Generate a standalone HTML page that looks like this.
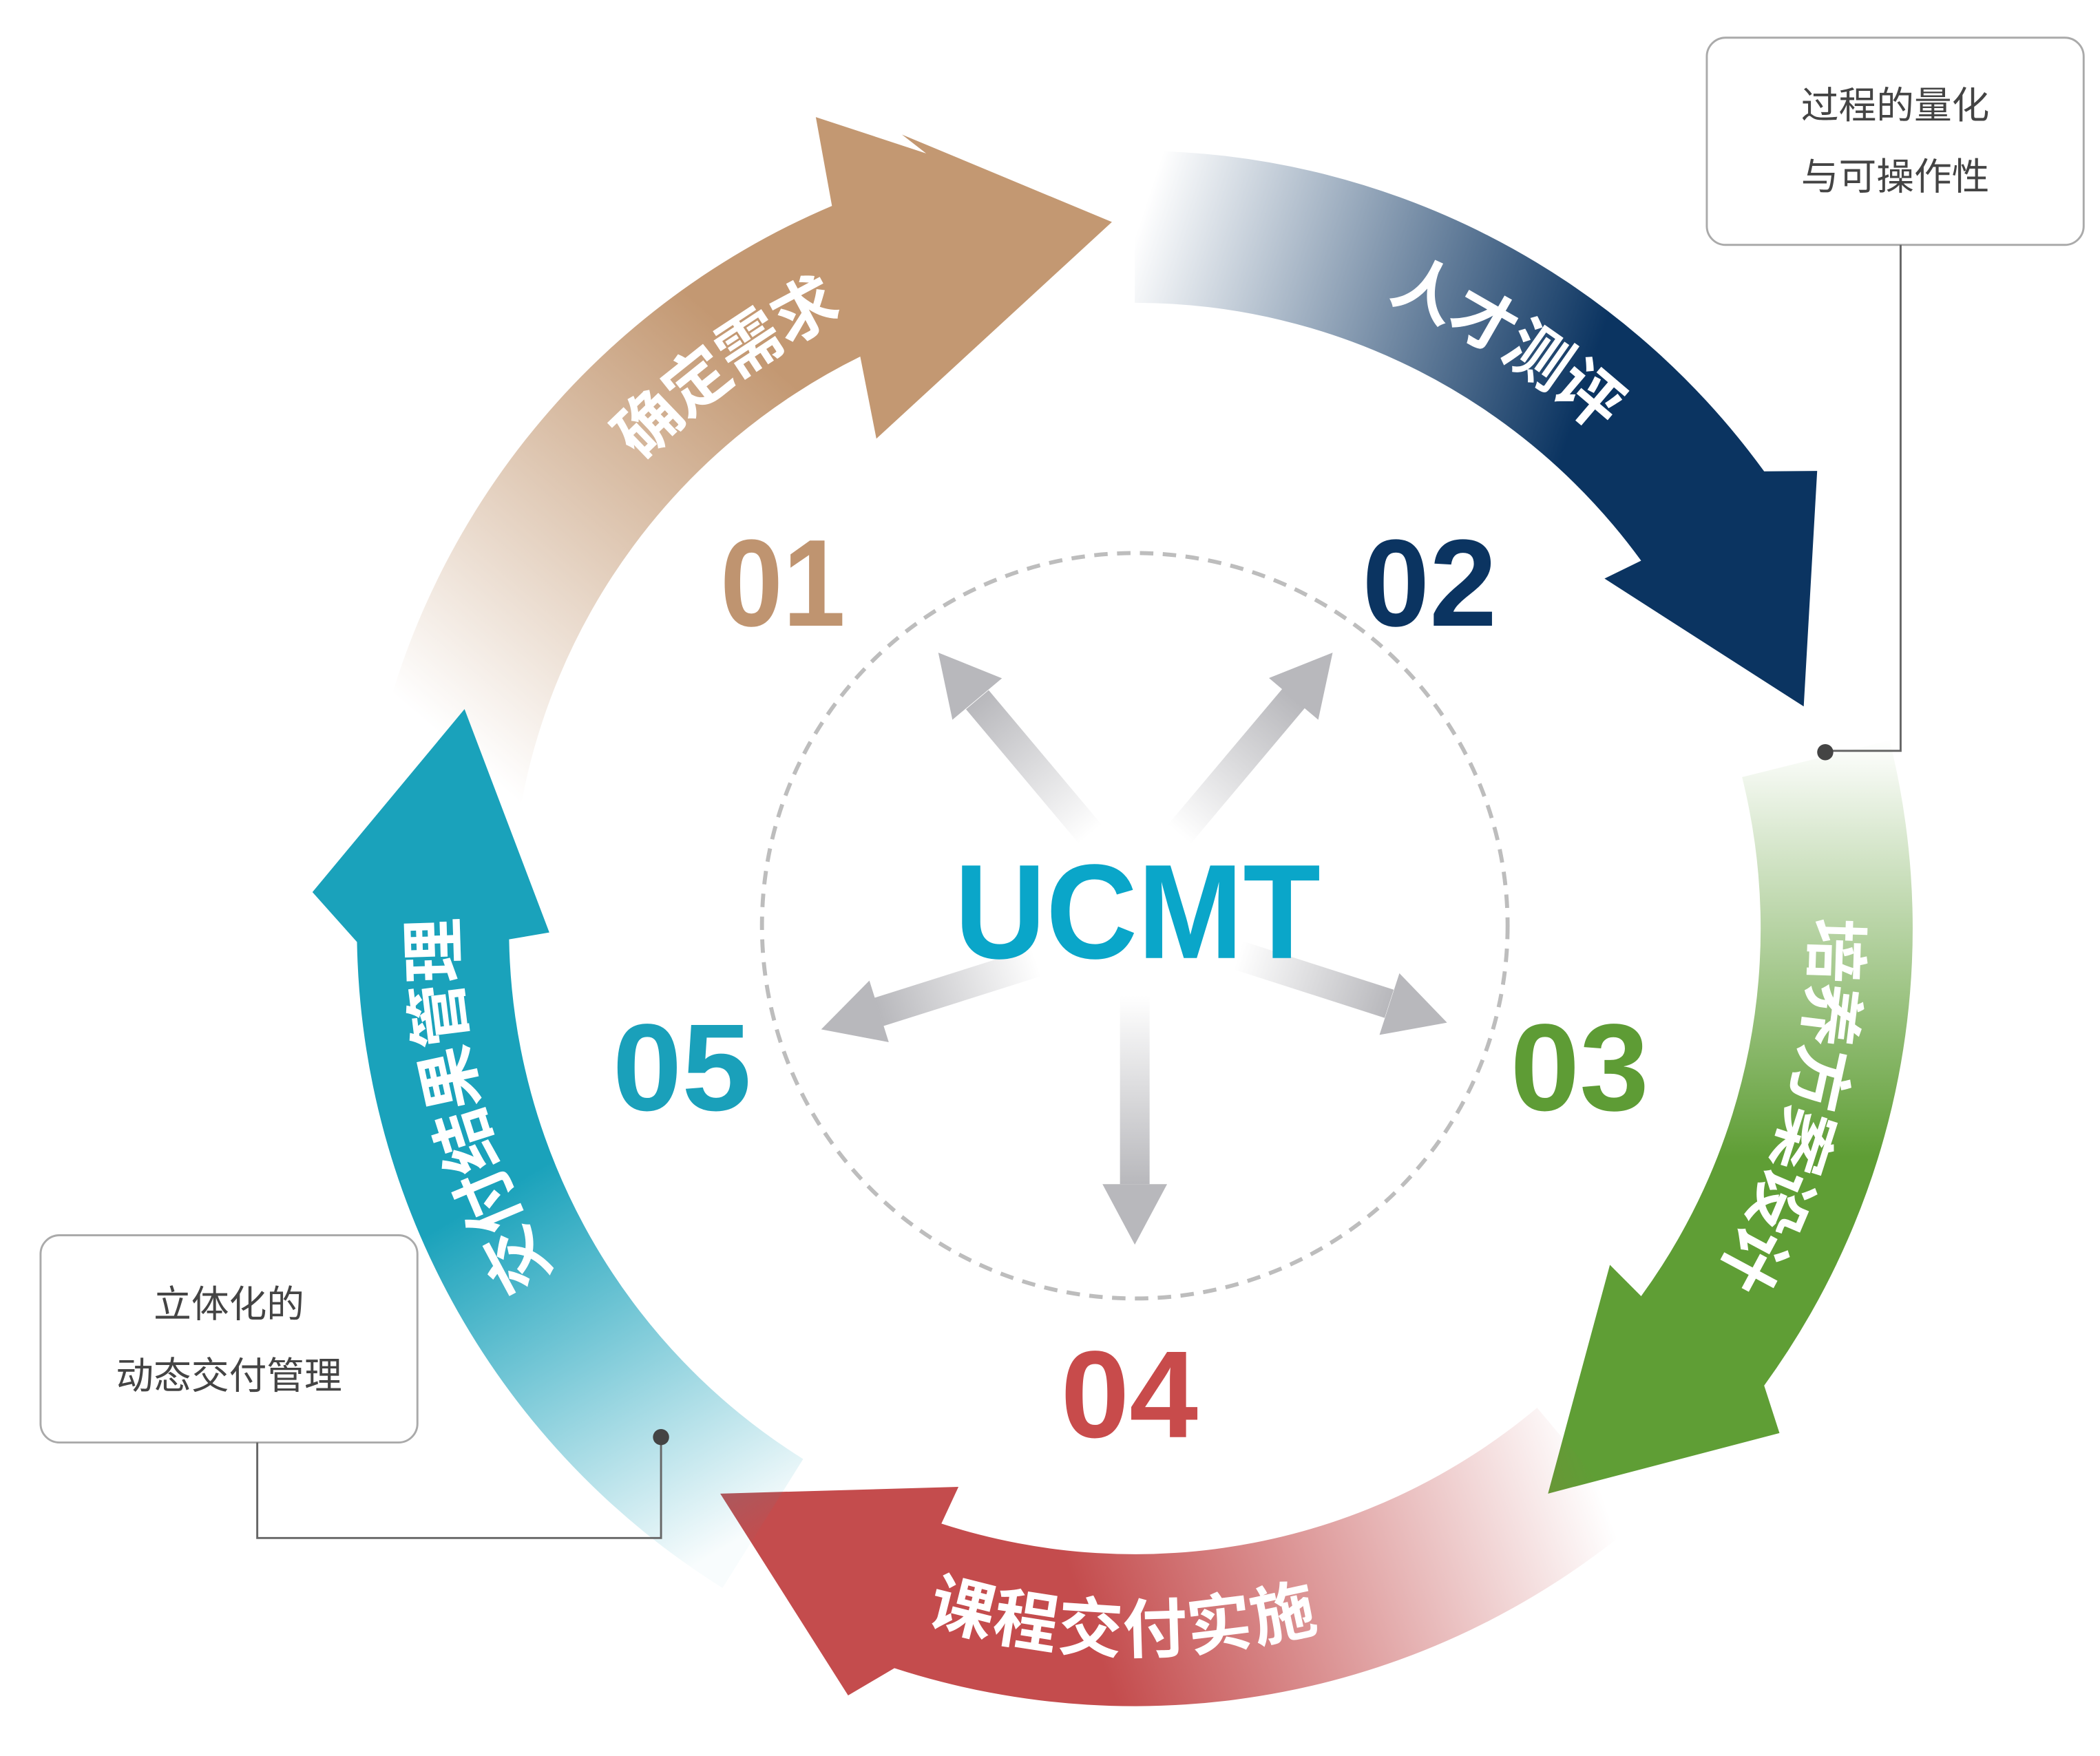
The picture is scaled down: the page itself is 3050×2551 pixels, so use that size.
<!DOCTYPE html>
<html><head><meta charset="utf-8">
<style>
html,body{margin:0;padding:0;background:#fff;}
svg{display:block;}
.lbl{font-family:"Liberation Sans","Noto Sans CJK SC",sans-serif;font-weight:bold;font-size:48px;fill:#fff;}
.num{font-family:"Liberation Sans",sans-serif;font-weight:bold;font-size:92px;}
.box{font-family:"Liberation Sans","Noto Sans CJK SC",sans-serif;font-size:28px;fill:#444;}
</style></head>
<body>
<svg width="3050" height="2551" viewBox="0 0 1560 1305" xmlns="http://www.w3.org/2000/svg">
<defs>
<linearGradient id="g1" gradientUnits="userSpaceOnUse" x1="320" y1="540" x2="560" y2="260"><stop offset="0" stop-color="#c39872" stop-opacity="0"/><stop offset="1" stop-color="#c39872"/></linearGradient>
<linearGradient id="g2" gradientUnits="userSpaceOnUse" x1="845" y1="170" x2="1180" y2="280"><stop offset="0" stop-color="#0b3461" stop-opacity="0"/><stop offset="1" stop-color="#0b3461"/></linearGradient>
<linearGradient id="g3" gradientUnits="userSpaceOnUse" x1="1330" y1="550" x2="1330" y2="860"><stop offset="0" stop-color="#5f9e35" stop-opacity="0"/><stop offset="1" stop-color="#5f9e35"/></linearGradient>
<linearGradient id="g4" gradientUnits="userSpaceOnUse" x1="1190" y1="1110" x2="820" y2="1240"><stop offset="0" stop-color="#c44c4d" stop-opacity="0"/><stop offset="1" stop-color="#c44c4d"/></linearGradient>
<linearGradient id="g5" gradientUnits="userSpaceOnUse" x1="540" y1="1150" x2="380" y2="880"><stop offset="0" stop-color="#1aa2bb" stop-opacity="0.03"/><stop offset="1" stop-color="#1aa2bb"/></linearGradient>
<linearGradient id="a1" gradientUnits="userSpaceOnUse" x1="810" y1="620" x2="726" y2="520"><stop offset="0" stop-color="#b8b8bc" stop-opacity="0"/><stop offset="1" stop-color="#b8b8bc"/></linearGradient>
<linearGradient id="a2" gradientUnits="userSpaceOnUse" x1="876" y1="620" x2="961" y2="519"><stop offset="0" stop-color="#b8b8bc" stop-opacity="0"/><stop offset="1" stop-color="#b8b8bc"/></linearGradient>
<linearGradient id="a3" gradientUnits="userSpaceOnUse" x1="770" y1="715" x2="653" y2="752"><stop offset="0" stop-color="#b8b8bc" stop-opacity="0"/><stop offset="1" stop-color="#b8b8bc"/></linearGradient>
<linearGradient id="a4" gradientUnits="userSpaceOnUse" x1="920" y1="710" x2="1032" y2="746"><stop offset="0" stop-color="#b8b8bc" stop-opacity="0"/><stop offset="1" stop-color="#b8b8bc"/></linearGradient>
<linearGradient id="a5" gradientUnits="userSpaceOnUse" x1="843" y1="740" x2="843" y2="880"><stop offset="0" stop-color="#b8b8bc" stop-opacity="0"/><stop offset="1" stop-color="#b8b8bc"/></linearGradient>
<path id="t1" d="M367.1,478.1 A521,521 0 0 1 788.6,171.9"/>
<path id="t2" d="M865.7,169.5 A521,521 0 0 1 1305.1,449.5"/>
<path id="t3" d="M1343.8,546.4 A521,521 0 0 1 1204.9,1064.8"/>
<path id="t4" d="M574.7,1136.6 A521,521 0 0 0 1095.6,1145.7"/>
<path id="t5" d="M474.6,1058.4 A521,521 0 0 1 339.8,555.2"/>
</defs>

<path fill="url(#g1)" d="M273.8,589.7 A578,578 0 0 1 618,153 L606,87 L688,114 L670,100 L826,165 L651,326 L639,265 A465,465 0 0 0 385.1,609.3 Z"/>
<path fill="url(#g2)" d="M843,112 A578,578 0 0 1 1310.6,350.3 L1350,350 L1340,525 L1192,430 L1219.2,416.7 A465,465 0 0 0 843,225 Z"/>
<path fill="url(#g3)" d="M1403.8,550.2 A578,578 0 0 1 1310.6,1029.7 L1322,1065 L1150,1110 L1196,940 L1219.2,963.3 A465,465 0 0 0 1294.2,577.5 Z"/>
<path fill="url(#g4)" d="M1214.5,1132.7 A578,578 0 0 1 664.4,1239.7 L630,1260 L535,1110 L712,1105 L699.3,1132.3 A465,465 0 0 0 1141.9,1046.2 Z"/>
<path fill="url(#g5)" d="M536.7,1180.1 A578,578 0 0 1 265.1,700.1 L232,663 L345,527 L408,693 L378.1,698.1 A465,465 0 0 0 596.6,1084.3 Z"/>

<text class="lbl" dy="17"><textPath href="#t1" startOffset="50%" text-anchor="middle">确定需求</textPath></text>
<text class="lbl" dy="17"><textPath href="#t2" startOffset="50%" text-anchor="middle">人才测评</textPath></text>
<text class="lbl" dy="17"><textPath href="#t3" startOffset="50%" text-anchor="middle">培养方案设计</textPath></text>
<text class="lbl" dy="17"><textPath href="#t4" startOffset="50%" text-anchor="middle">课程交付实施</textPath></text>
<text class="lbl" dy="17"><textPath href="#t5" startOffset="50%" text-anchor="middle">交付结果管理</textPath></text>

<circle cx="843" cy="688" r="277" fill="none" stroke="#bdbdbd" stroke-width="3" stroke-dasharray="10,7"/>

<line x1="810" y1="620" x2="726" y2="520" stroke="url(#a1)" stroke-width="22"/>
<polygon fill="#b8b8bc" points="697,485 744.3,504.1 707.5,534.9"/>
<line x1="876" y1="620" x2="961" y2="519" stroke="url(#a2)" stroke-width="22"/>
<polygon fill="#b8b8bc" points="990,485 979.3,534.9 942.7,503.9"/>
<line x1="770" y1="715" x2="653" y2="752" stroke="url(#a3)" stroke-width="22"/>
<polygon fill="#b8b8bc" points="610,765 660.2,774.5 645.8,728.7"/>
<line x1="920" y1="710" x2="1032" y2="746" stroke="url(#a4)" stroke-width="22"/>
<polygon fill="#b8b8bc" points="1075,760 1024.8,769.1 1039.6,723.3"/>
<line x1="843" y1="740" x2="843" y2="880" stroke="url(#a5)" stroke-width="22"/>
<polygon fill="#b8b8bc" points="843,925 819,880 867,880"/>

<text x="845" y="712" text-anchor="middle" font-family="Liberation Sans,sans-serif" font-weight="bold" font-size="100" fill="#0aa6c9" textLength="272" lengthAdjust="spacingAndGlyphs">UCMT</text>

<text class="num" x="535" y="465" fill="#bf9470" textLength="93" lengthAdjust="spacingAndGlyphs">01</text>
<text class="num" x="1012" y="465" fill="#0b3461" textLength="100" lengthAdjust="spacingAndGlyphs">02</text>
<text class="num" x="455" y="825" fill="#1aa0ba" textLength="103" lengthAdjust="spacingAndGlyphs">05</text>
<text class="num" x="1122" y="825" fill="#5e9c35" textLength="103" lengthAdjust="spacingAndGlyphs">03</text>
<text class="num" x="788" y="1068" fill="#c84b4b" textLength="102" lengthAdjust="spacingAndGlyphs">04</text>

<rect x="1268" y="28" width="280" height="154" rx="14" fill="#fff" stroke="#aaa" stroke-width="1.5"/>
<text class="box" x="1408" y="88" text-anchor="middle">过程的量化</text>
<text class="box" x="1408" y="141" text-anchor="middle">与可操作性</text>
<polyline points="1412,182 1412,558 1356,558" fill="none" stroke="#666" stroke-width="1.5"/>
<circle cx="1356" cy="559" r="6" fill="#444"/>

<rect x="30" y="918" width="280" height="154" rx="14" fill="#fff" stroke="#aaa" stroke-width="1.5"/>
<text class="box" x="170" y="979" text-anchor="middle">立体化的</text>
<text class="box" x="170" y="1032" text-anchor="middle">动态交付管理</text>
<polyline points="191,1072 191,1143 491,1143 491,1068" fill="none" stroke="#666" stroke-width="1.5"/>
<circle cx="491" cy="1068" r="6" fill="#444"/>
</svg>
</body></html>
